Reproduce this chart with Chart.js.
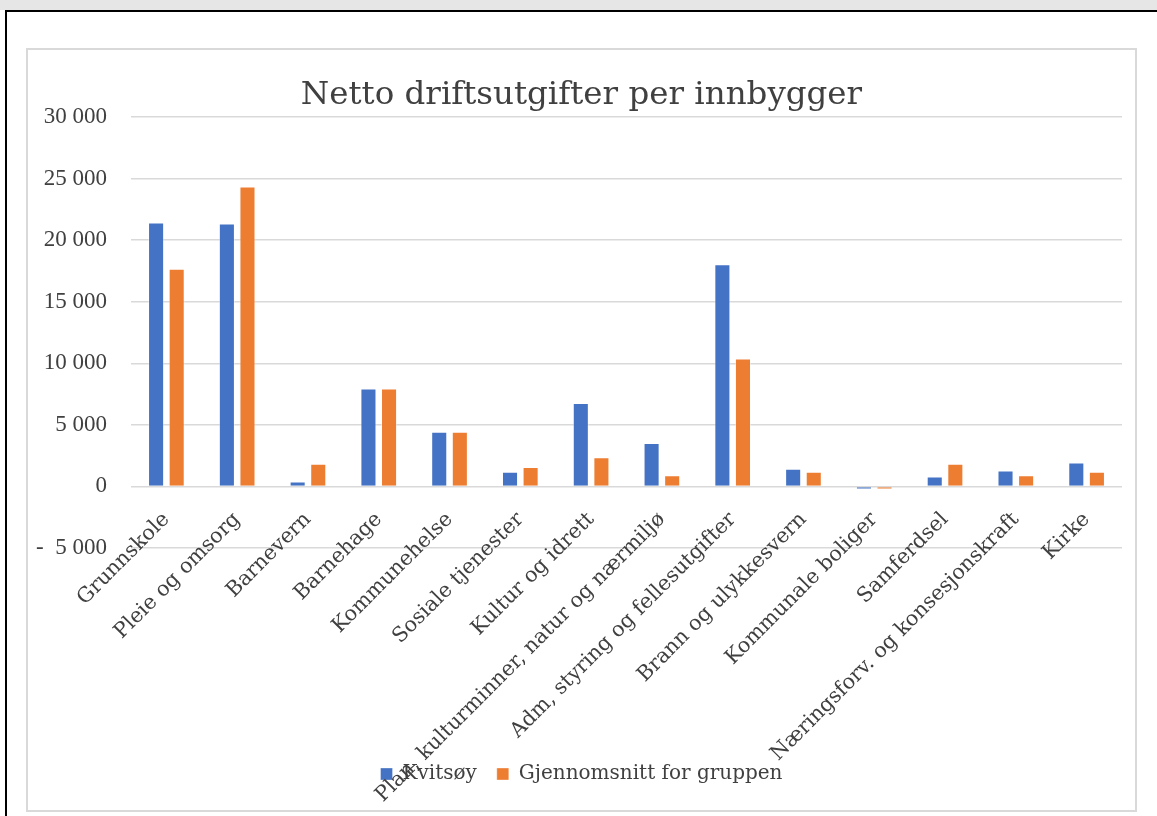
<!DOCTYPE html>
<html>
<head>
<meta charset="utf-8">
<script src="https://cdn.jsdelivr.net/npm/chart.js@4.4.1/dist/chart.umd.min.js"></script>
<style>
    body { margin: 0; background: #fff; }
    #topbar { position: absolute; left: 0; top: 0; width: 100%; height: 10px; background: #e6e6e6; }
    #topline { position: absolute; left: 5px; right: 0; top: 10px; height: 2px; background: #000; }
    #leftline { position: absolute; left: 5px; top: 10px; bottom: 0; width: 2px; background: #000; }
    #box { position: absolute; left: 26px; top: 48px; width: 1111px; height: 764px; border: 2px solid #d9d9d9; box-sizing: border-box; }
    #wrap { position: absolute; left: 0; top: 0; width: 1107px; height: 760px; }
</style>
</head>
<body>
<div id="topbar"></div>
<div id="topline"></div>
<div id="leftline"></div>
<div id="box"><div id="wrap"><canvas id="chart"></canvas></div></div>
<script>
const categories = [
    'Grunnskole', 'Pleie og omsorg', 'Barnevern', 'Barnehage', 'Kommunehelse',
    'Sosiale tjenester', 'Kultur og idrett', 'Plan, kulturminner, natur og nærmiljø',
    'Adm, styring og fellesutgifter', 'Brann og ulykkesvern', 'Kommunale boliger',
    'Samferdsel', 'Næringsforv. og konsesjonskraft', 'Kirke'
];
const kvitsoy = [21430, 21350, 410, 7950, 4450, 1200, 6780, 3520, 18050, 1440, -240, 800, 1300, 1950];
const gjennomsnitt = [17680, 24350, 1850, 7950, 4450, 1570, 2360, 900, 10380, 1190, -240, 1840, 900, 1190];

const yTicks = [-5000, 0, 5000, 10000, 15000, 20000, 25000, 30000];
const yTickLabels = ['-  5 000', '0', '5 000', '10 000', '15 000', '20 000', '25 000', '30 000'];

Chart.defaults.color = '#404040';
Chart.defaults.font.family = "'DejaVu Serif', serif";

const ctx = document.getElementById('chart').getContext('2d');
new Chart(ctx, {
    type: 'bar',
    data: {
        labels: categories,
        datasets: [{
            label: 'Kvitsøy',
            data: kvitsoy,
            backgroundColor: '#4472c4',
            borderColor: 'rgba(255, 255, 255, 0.35)',
            borderWidth: 1,
            categoryPercentage: 0.582,
            barPercentage: 0.78
        }, {
            label: 'Gjennomsnitt for gruppen',
            data: gjennomsnitt,
            backgroundColor: '#ed7d31',
            borderColor: 'rgba(255, 255, 255, 0.35)',
            borderWidth: 1,
            categoryPercentage: 0.582,
            barPercentage: 0.78
        }]
    },
    options: {
        responsive: true,
        maintainAspectRatio: false,
        animation: false,
        layout: { padding: { top: 0, left: 0, right: 0, bottom: 16 } },
        plugins: {
            title: {
                display: true,
                text: 'Netto driftsutgifter per innbygger',
                font: { size: 32.5, weight: 'normal' },
                padding: { top: 26, bottom: 2 }
            },
            legend: {
                position: 'bottom',
                // empty legend title only keeps the room under the axis, like the Excel plot
                title: { display: true, text: '', font: { size: 10, lineHeight: 1 }, padding: { top: 186, bottom: 0 } },
                labels: {
                    boxWidth: 12,
                    boxHeight: 12,
                    padding: 20,
                    font: { size: 20 }
                }
            },
            tooltip: { enabled: false }
        },
        scales: {
            x: {
                position: { y: 0 },
                grid: { display: false, drawTicks: false },
                border: { display: false },
                ticks: {
                    autoSkip: false,
                    minRotation: 45,
                    maxRotation: 45,
                    padding: 21,
                    font: { size: 20.7 }
                }
            },
            y: {
                min: -5000,
                max: 30000,
                grid: { color: '#d9d9d9', lineWidth: 1.5, drawTicks: false },
                border: { display: false },
                ticks: {
                    stepSize: 5000,
                    padding: 24,
                    font: { family: "'Liberation Serif', serif", size: 23 },
                    callback: (value) => yTickLabels[yTicks.indexOf(value)]
                },
                afterFit: (scale) => { scale.width = 103; }
            },
            // empty right margin, so the title and legend stay centred on the whole box
            yRight: {
                position: 'right',
                grid: { display: false, drawTicks: false },
                border: { display: false },
                ticks: { display: false },
                afterFit: (scale) => { scale.width = 13; }
            }
        }
    }
});
</script>
</body>
</html>
